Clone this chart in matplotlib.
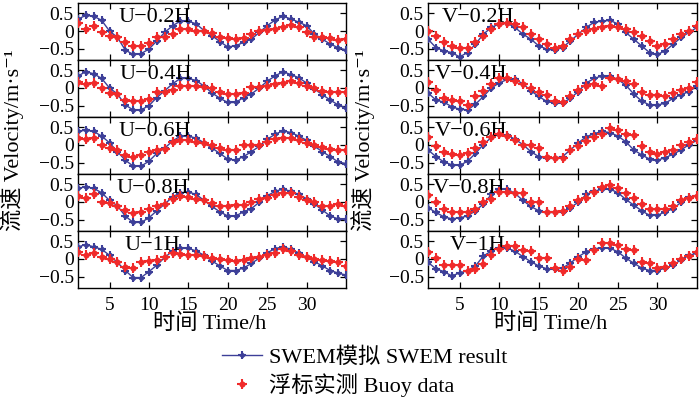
import numpy as np
import matplotlib
matplotlib.use("Agg")
import matplotlib.pyplot as plt
from matplotlib.legend_handler import HandlerTuple

# ---------------- data (hourly, t = 1..35) ----------------
hours = list(range(1, 36))
x_ticks = [5, 10, 15, 20, 25, 30]
y_ticks = [-0.5, 0, 0.5]

u02_swem = [0.34, 0.44, 0.42, 0.30, 0.00, -0.18, -0.54, -0.66, -0.64, -0.51, -0.28, -0.04, 0.15, 0.28, 0.28,
            0.20, 0.01, -0.13, -0.30, -0.45, -0.42, -0.32, -0.23, -0.04, 0.15, 0.31, 0.42, 0.34, 0.25, 0.15,
            -0.09, -0.23, -0.37, -0.47, -0.54]
u02_buoy = [0.22, 0.06, 0.15, -0.04, -0.13, -0.18, -0.32, -0.42, -0.42, -0.35, -0.16, -0.16, -0.09, 0.06, 0.06,
            -0.01, -0.01, -0.07, -0.18, -0.20, -0.23, -0.21, -0.09, -0.01, 0.03, 0.06, 0.10, 0.18, 0.12, -0.04,
            -0.16, -0.18, -0.20, -0.26, -0.23]

u04_swem = [0.34, 0.46, 0.40, 0.27, 0.00, -0.17, -0.48, -0.62, -0.62, -0.50, -0.27, -0.08, 0.12, 0.27, 0.27,
            0.21, 0.05, -0.14, -0.29, -0.41, -0.41, -0.27, -0.17, 0.00, 0.19, 0.34, 0.46, 0.38, 0.29, 0.14,
            -0.03, -0.19, -0.34, -0.48, -0.56]
u04_buoy = [0.17, 0.10, 0.14, 0.00, -0.14, -0.17, -0.34, -0.38, -0.38, -0.31, -0.10, -0.10, -0.05, 0.05, 0.05,
            0.05, 0.03, 0.00, -0.10, -0.17, -0.17, -0.14, 0.02, 0.02, 0.05, 0.10, 0.14, 0.19, 0.14, 0.05,
            0.00, -0.08, -0.10, -0.10, -0.10]

u06_swem = [0.38, 0.42, 0.38, 0.25, 0.06, -0.19, -0.43, -0.60, -0.60, -0.46, -0.24, -0.09, 0.11, 0.25, 0.25,
            0.19, 0.06, -0.09, -0.24, -0.40, -0.43, -0.33, -0.19, -0.04, 0.16, 0.30, 0.40, 0.35, 0.25, 0.13,
            -0.04, -0.19, -0.33, -0.48, -0.53]
u06_buoy = [0.20, 0.16, 0.20, 0.00, -0.09, -0.14, -0.28, -0.33, -0.28, -0.19, -0.14, -0.11, 0.09, 0.13, 0.13,
            0.09, 0.06, 0.00, -0.09, -0.14, -0.14, 0.00, 0.00, 0.00, 0.09, 0.16, 0.20, 0.19, 0.13, 0.06,
            0.00, -0.07, -0.11, -0.14, -0.14]

u08_swem = [0.38, 0.43, 0.38, 0.26, 0.04, -0.11, -0.40, -0.58, -0.58, -0.45, -0.25, -0.06, 0.14, 0.26, 0.28,
            0.21, 0.04, -0.13, -0.28, -0.40, -0.40, -0.28, -0.19, -0.01, 0.17, 0.30, 0.36, 0.30, 0.21, 0.09,
            -0.06, -0.23, -0.40, -0.48, -0.48]
u08_buoy = [0.17, 0.11, 0.21, 0.01, -0.03, -0.11, -0.23, -0.32, -0.28, -0.21, -0.11, -0.06, 0.09, 0.17, 0.14,
            0.09, 0.04, -0.03, -0.11, -0.13, -0.09, -0.09, -0.01, 0.07, 0.11, 0.19, 0.24, 0.26, 0.14, 0.04,
            -0.01, -0.11, -0.13, -0.06, -0.13]

u1_swem = [0.34, 0.40, 0.34, 0.27, 0.10, -0.10, -0.33, -0.53, -0.53, -0.36, -0.18, 0.04, 0.22, 0.32, 0.30,
           0.22, 0.10, -0.06, -0.20, -0.33, -0.33, -0.26, -0.13, 0.02, 0.17, 0.29, 0.34, 0.27, 0.17, 0.04,
           -0.08, -0.20, -0.33, -0.40, -0.46]
u1_buoy = [0.20, 0.10, 0.17, 0.04, 0.00, -0.08, -0.23, -0.26, -0.10, -0.06, -0.03, 0.04, 0.17, 0.14, 0.10,
           0.10, 0.07, 0.02, 0.00, -0.03, -0.06, -0.03, 0.02, 0.04, 0.10, 0.17, 0.27, 0.22, 0.12, 0.04,
           0.00, -0.03, -0.06, -0.10, -0.20]

v02_swem = [-0.23, -0.47, -0.56, -0.61, -0.73, -0.61, -0.37, -0.09, 0.10, 0.20, 0.22, 0.10, -0.09, -0.23, -0.42,
            -0.51, -0.54, -0.47, -0.28, -0.09, 0.10, 0.25, 0.28, 0.30, 0.20, -0.04, -0.23, -0.42, -0.61, -0.66,
            -0.56, -0.37, -0.18, -0.04, 0.10]
v02_buoy = [-0.01, -0.13, -0.32, -0.42, -0.47, -0.47, -0.32, -0.13, 0.06, 0.20, 0.22, 0.20, 0.10, -0.09, -0.23,
            -0.37, -0.47, -0.42, -0.23, -0.09, 0.01, 0.06, 0.10, 0.15, 0.10, 0.06, -0.04, -0.13, -0.28, -0.42,
            -0.37, -0.23, -0.09, 0.01, 0.15]

v04_swem = [-0.14, -0.34, -0.40, -0.53, -0.60, -0.62, -0.46, -0.24, 0.00, 0.14, 0.24, 0.24, 0.12, -0.08, -0.24,
            -0.38, -0.43, -0.43, -0.29, -0.10, 0.14, 0.27, 0.34, 0.34, 0.24, 0.08, -0.17, -0.37, -0.48, -0.48,
            -0.43, -0.29, -0.19, -0.10, 0.05]
v04_buoy = [0.17, -0.05, -0.27, -0.34, -0.37, -0.48, -0.24, -0.08, 0.10, 0.29, 0.27, 0.21, 0.12, 0.00, -0.10,
            -0.19, -0.38, -0.40, -0.24, -0.05, 0.05, 0.10, 0.05, 0.29, 0.24, 0.19, 0.10, -0.10, -0.19, -0.21,
            -0.24, -0.14, -0.05, 0.00, 0.17]

v06_swem = [-0.14, -0.33, -0.48, -0.56, -0.58, -0.46, -0.24, 0.01, 0.21, 0.30, 0.28, 0.16, 0.01, -0.19, -0.33,
            -0.38, -0.38, -0.33, -0.14, 0.06, 0.23, 0.32, 0.38, 0.35, 0.25, 0.09, -0.14, -0.28, -0.40, -0.43,
            -0.36, -0.26, -0.14, 0.01, 0.13]
v06_buoy = [0.21, -0.04, -0.19, -0.26, -0.28, -0.24, -0.09, 0.09, 0.23, 0.30, 0.25, 0.13, 0.01, 0.01, -0.09,
            -0.33, -0.36, -0.38, -0.14, -0.04, 0.11, 0.21, 0.32, 0.48, 0.42, 0.30, 0.28, -0.04, -0.19, -0.26,
            -0.21, -0.14, 0.01, 0.09, 0.16]

v08_swem = [-0.16, -0.30, -0.42, -0.48, -0.45, -0.40, -0.25, -0.06, 0.21, 0.36, 0.36, 0.24, 0.04, -0.13, -0.25,
            -0.30, -0.30, -0.28, -0.16, -0.01, 0.21, 0.30, 0.36, 0.36, 0.26, 0.07, -0.09, -0.25, -0.38, -0.38,
            -0.28, -0.19, -0.01, 0.14, 0.17]
v08_buoy = [0.19, -0.01, -0.21, -0.28, -0.30, -0.28, -0.19, -0.01, 0.09, 0.28, 0.28, 0.26, 0.26, -0.01, -0.01,
            -0.28, -0.30, -0.25, -0.11, 0.04, 0.11, 0.28, 0.43, 0.48, 0.40, 0.26, 0.11, -0.06, -0.21, -0.19,
            -0.19, -0.11, 0.04, 0.11, 0.17]

v1_swem = [-0.10, -0.28, -0.36, -0.48, -0.40, -0.33, -0.20, 0.08, 0.22, 0.32, 0.30, 0.22, 0.06, -0.08, -0.20,
           -0.28, -0.30, -0.26, -0.12, 0.06, 0.20, 0.28, 0.32, 0.30, 0.20, 0.02, -0.12, -0.26, -0.33, -0.33,
           -0.26, -0.18, -0.02, 0.10, 0.16]
v1_buoy = [0.20, 0.02, -0.18, -0.18, -0.18, -0.33, -0.28, -0.14, 0.12, 0.27, 0.37, 0.35, 0.25, 0.22, 0.02,
           0.02, -0.26, -0.33, -0.22, 0.00, -0.03, 0.24, 0.45, 0.45, 0.40, 0.28, 0.26, -0.08, -0.13, -0.26,
           -0.22, -0.13, 0.00, 0.08, 0.20]

u_labels = ["U\u22120.2H", "U\u22120.4H", "U\u22120.6H", "U\u22120.8H", "U\u22121H"]
v_labels = ["V\u22120.2H", "V\u22120.4H", "V\u22120.6H", "V\u22120.8H", "V\u22121H"]
u_swem = [u02_swem, u04_swem, u06_swem, u08_swem, u1_swem]
u_buoy = [u02_buoy, u04_buoy, u06_buoy, u08_buoy, u1_buoy]
v_swem = [v02_swem, v04_swem, v06_swem, v08_swem, v1_swem]
v_buoy = [v02_buoy, v04_buoy, v06_buoy, v08_buoy, v1_buoy]

legend_swem = "SWEM模拟 SWEM result"
legend_buoy = "浮标实测 Buoy data"
x_label = "时间 Time/h"
y_label = "流速 Velocity/m\u00b7s\u207b\u00b9"

# ---------------- style ----------------
FAM = ['Liberation Serif', 'Noto Sans CJK SC', 'DejaVu Serif']
plt.rcParams['font.family'] = FAM
plt.rcParams['axes.unicode_minus'] = True

BLUE = '#3d3f98'
RED = '#f02a2a'

W, H = 700, 399
fig = plt.figure(figsize=(7.0, 3.99), dpi=100)

def fx(px):
    return px / W

def fy(py):
    return 1 - py / H

top_px, bot_px = 2.7, 287.5
ph = (bot_px - top_px) / 5
cols = [(78, 346), (428, 697)]
u_lab_x = [0.15, 0.155, 0.15, 0.145, 0.175]
v_lab_x = [0.052, 0.026, 0.026, 0.019, 0.082]

handles = None
for c, (x0, x1) in enumerate(cols):
    for r in range(5):
        y0 = top_px + r * ph
        ax = fig.add_axes([fx(x0), fy(y0 + ph), fx(x1) - fx(x0), ph / H])
        sw = (u_swem if c == 0 else v_swem)[r]
        bu = (u_buoy if c == 0 else v_buoy)[r]
        l1, = ax.plot(hours, sw, color=BLUE, lw=1.0, marker='+', ms=6, mew=1.5, zorder=3)
        l1b, = ax.plot(hours, sw, color=BLUE, lw=0, marker='D', ms=2.4, zorder=3)
        p1, = ax.plot(hours, bu, color=RED, lw=0, marker='+', ms=6.5, mew=1.5, zorder=4)
        p2, = ax.plot(hours, bu, color=RED, lw=0, marker='o', ms=3.4, zorder=4)
        if handles is None:
            handles = [(l1, l1b), (p1, p2)]
        ax.set_xlim(1, 35)
        ax.set_ylim(-0.81, 0.8)
        ax.set_xticks(x_ticks)
        ax.set_yticks(y_ticks)
        ax.set_yticklabels(["\u22120.5", "0", "0.5"])
        ax.tick_params(direction='in', top=True, right=True, length=4, width=0.9,
                       labelsize=14, pad=3)
        ax.tick_params(axis='x', pad=7)
        if r < 4:
            ax.tick_params(labelbottom=False)
        for s in ax.spines.values():
            s.set_linewidth(1.0)
        lab = (u_labels if c == 0 else v_labels)[r]
        lx = (u_lab_x if c == 0 else v_lab_x)[r]
        ax.text(lx, 0.74, lab, transform=ax.transAxes, fontsize=16, va='center', ha='left')

fig.text(fx(210), fy(324), x_label, ha='center', va='center', fontsize=16)
fig.text(fx(551), fy(324), x_label, ha='center', va='center', fontsize=16)
fig.text(fx(12), fy(140), y_label, ha='center', va='center', rotation=90, fontsize=16)
fig.text(fx(363), fy(140), y_label, ha='center', va='center', rotation=90, fontsize=16)

fig.legend(handles, [legend_swem, legend_buoy], loc='center',
           bbox_to_anchor=(fx(365), fy(372)), frameon=False, fontsize=16,
           handlelength=1.8, handletextpad=0.3, labelspacing=0.25, numpoints=1,
           handler_map={tuple: HandlerTuple(ndivide=1, pad=0)})

fig.savefig('out.png', dpi=100)
